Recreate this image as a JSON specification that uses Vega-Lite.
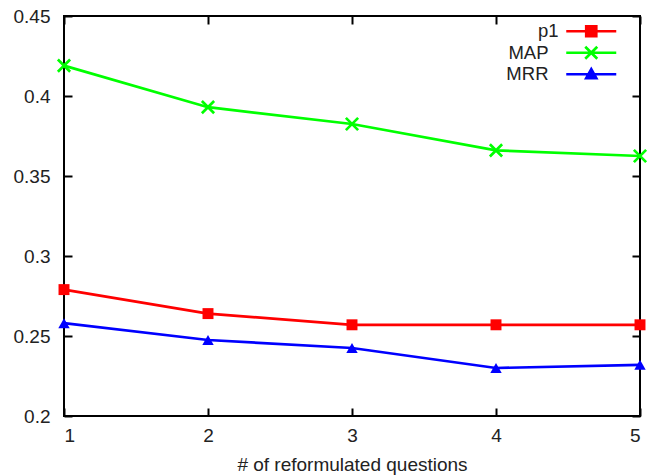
{
  "$schema": "https://vega.github.io/schema/vega-lite/v6.json",
  "width": 576,
  "height": 400,
  "autosize": "none",
  "padding": {"left": 64, "top": 16, "right": 13, "bottom": 60},
  "background": "white",
  "config": {
    "font": "Liberation Sans",
    "view": {"stroke": "#000000", "strokeWidth": 2},
    "axis": {"domain": false, "grid": false, "tickColor": "#000000", "tickWidth": 2, "labelColor": "#222222", "labelFontSize": 19, "titleFontSize": 19, "titleFontWeight": "normal", "titleColor": "#222222"}
  },
  "data": {"values": [
    {"x": 1, "series": "p1", "value": 0.279},
    {"x": 2, "series": "p1", "value": 0.264},
    {"x": 3, "series": "p1", "value": 0.257},
    {"x": 4, "series": "p1", "value": 0.257},
    {"x": 5, "series": "p1", "value": 0.257},
    {"x": 1, "series": "MAP", "value": 0.419},
    {"x": 2, "series": "MAP", "value": 0.393},
    {"x": 3, "series": "MAP", "value": 0.3825},
    {"x": 4, "series": "MAP", "value": 0.366},
    {"x": 5, "series": "MAP", "value": 0.3625},
    {"x": 1, "series": "MRR", "value": 0.258},
    {"x": 2, "series": "MRR", "value": 0.2475},
    {"x": 3, "series": "MRR", "value": 0.2425},
    {"x": 4, "series": "MRR", "value": 0.230},
    {"x": 5, "series": "MRR", "value": 0.232}
  ]},
  "layer": [
    {
      "mark": {"type": "line", "strokeWidth": 2.7},
      "encoding": {
        "x": {"field": "x", "type": "quantitative", "scale": {"domain": [1, 5], "nice": false, "zero": false},
          "axis": {"orient": "bottom", "values": [1, 2, 3, 4, 5], "format": "d", "tickSize": -8, "labelPadding": 18, "labelFontSize": 19, "title": "# of reformulated questions", "titlePadding": 10}},
        "y": {"field": "value", "type": "quantitative", "scale": {"domain": [0.2, 0.45], "nice": false, "zero": false},
          "axis": {"orient": "left", "values": [0.2, 0.25, 0.3, 0.35, 0.4, 0.45], "format": "~f", "tickSize": -8, "labelPadding": 22, "labelFontSize": 19, "title": null}},
        "color": {"field": "series", "type": "nominal",
          "scale": {"domain": ["p1", "MAP", "MRR"], "range": ["#ff0000", "#00ff00", "#0000ff"]},
          "legend": {"title": null, "orient": "none", "legendX": 518, "legendY": 6, "padding": 0, "symbolSize": 100, "symbolStrokeWidth": 2.7, "labelAlign": "right", "labelOffset": -52, "labelFontSize": 18.5, "labelColor": "#222222", "rowPadding": -1.5,
            "encode": {
              "symbols": {"update": {
                "shape": {"signal": "datum.value === 'p1' ? 'M-5,0H5M-1,-1H1V1H-1Z' : datum.value === 'MAP' ? 'M-5,0H5M-1.2,-1.2L1.2,1.2M-1.2,1.2L1.2,-1.2' : 'M-5,0H5M0,-1L1,0.8H-1Z'"},
                "fill": {"signal": "scale('color', datum.value)"},
                "stroke": {"signal": "scale('color', datum.value)"},
                "strokeWidth": {"value": 2.7}
              }},
              "labels": {"update": {"dx": {"signal": "datum.value === 'p1' ? 10 : 0"}}}
            }}}
      }
    },
    {
      "transform": [{"filter": "datum.series === 'p1'"}],
      "mark": {"type": "point", "shape": "square", "filled": true, "size": 120, "opacity": 1},
      "encoding": {
        "x": {"field": "x", "type": "quantitative",
          "axis": {"orient": "top", "values": [1, 2, 3, 4, 5], "tickSize": -8, "labels": false, "title": null}},
        "y": {"field": "value", "type": "quantitative",
          "axis": {"orient": "right", "values": [0.2, 0.25, 0.3, 0.35, 0.4, 0.45], "tickSize": -8, "labels": false, "title": null}},
        "color": {"field": "series", "type": "nominal", "legend": null}
      }
    },
    {
      "transform": [{"filter": "datum.series === 'MAP'"}],
      "mark": {"type": "point", "shape": "M-1,-1L1,1M-1,1L1,-1", "filled": false, "strokeWidth": 2.7, "size": 150, "opacity": 1},
      "encoding": {
        "x": {"field": "x", "type": "quantitative", "axis": null},
        "y": {"field": "value", "type": "quantitative", "axis": null},
        "color": {"field": "series", "type": "nominal", "legend": null}
      }
    },
    {
      "transform": [{"filter": "datum.series === 'MRR'"}],
      "mark": {"type": "point", "shape": "triangle-up", "filled": true, "size": 130, "opacity": 1},
      "encoding": {
        "x": {"field": "x", "type": "quantitative", "axis": null},
        "y": {"field": "value", "type": "quantitative", "axis": null},
        "color": {"field": "series", "type": "nominal", "legend": null}
      }
    }
  ],
  "resolve": {"axis": {"x": "independent", "y": "independent"}}
}
